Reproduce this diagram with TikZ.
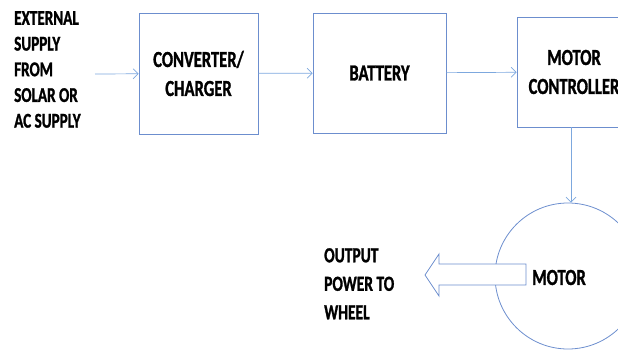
\documentclass[tikz,border=0pt]{standalone}
\usepackage{fontspec}
\setmainfont[FakeStretch=0.72, BoldFeatures={FakeBold=1.2}]{Carlito}
\usetikzlibrary{arrows.meta}
\definecolor{boxblue}{RGB}{108,142,206}
\definecolor{linkblue}{RGB}{125,168,222}

\begin{document}
\begin{tikzpicture}[x=1pt, y=-1pt,
        blk/.style={draw=boxblue, line width=0.8pt, align=center, inner sep=0pt,
            font=\fontsize{23}{29}\selectfont\bfseries},
        txt/.style={align=left, anchor=north west, inner sep=0pt},
        link/.style={draw=linkblue, line width=0.7pt, -{Straight Barb[length=5pt,width=10pt]}}]
    \useasboundingbox (0,0) rectangle (618,350);
    \clip (0,0) rectangle (618,350);
    % blocks
    \node[blk, minimum width=119pt, minimum height=121pt] (conv) at (198.5,73.5) {CONVERTER/\\CHARGER};
    \node[blk, minimum width=133pt, minimum height=120pt] (batt) at (379.5,73) {BATTERY};
    \node[blk, minimum width=114pt, minimum height=110pt] (ctrl) at (574,72) {MOTOR\\CONTROLLER};
    \node[draw=boxblue, line width=0.8pt, circle, minimum size=146pt, inner sep=0pt] (motor) at (568,276) {};
    % texts
    \node[txt, font=\fontsize{21}{25.7}\selectfont\bfseries] (src) at (14,11) {EXTERNAL\\SUPPLY\\FROM\\SOLAR OR\\AC SUPPLY};
    \node[txt, font=\fontsize{21.5}{28.5}\selectfont\bfseries] (out) at (324,248) {OUTPUT\\POWER TO\\WHEEL};
    % links
    \coordinate (in) at (95,74);
    \draw[link] (in) -- (conv);
    \draw[link] (conv) -- (batt);
    \draw[link] (batt) -- (ctrl);
    \draw[link] (ctrl.south -| 571,0) -- (motor.north -| 571,0);
    % output arrow
    \draw[draw=boxblue, line width=0.8pt, fill=white] (526,264) -- (439,264) -- (439,254) -- (425,275)
        -- (439,296) -- (439,285) -- (526,285) -- cycle;
    \node[inner sep=0pt, font=\fontsize{23}{23}\selectfont\bfseries] (mlabel) at (559,277.5) {MOTOR};
\end{tikzpicture}
\end{document}
